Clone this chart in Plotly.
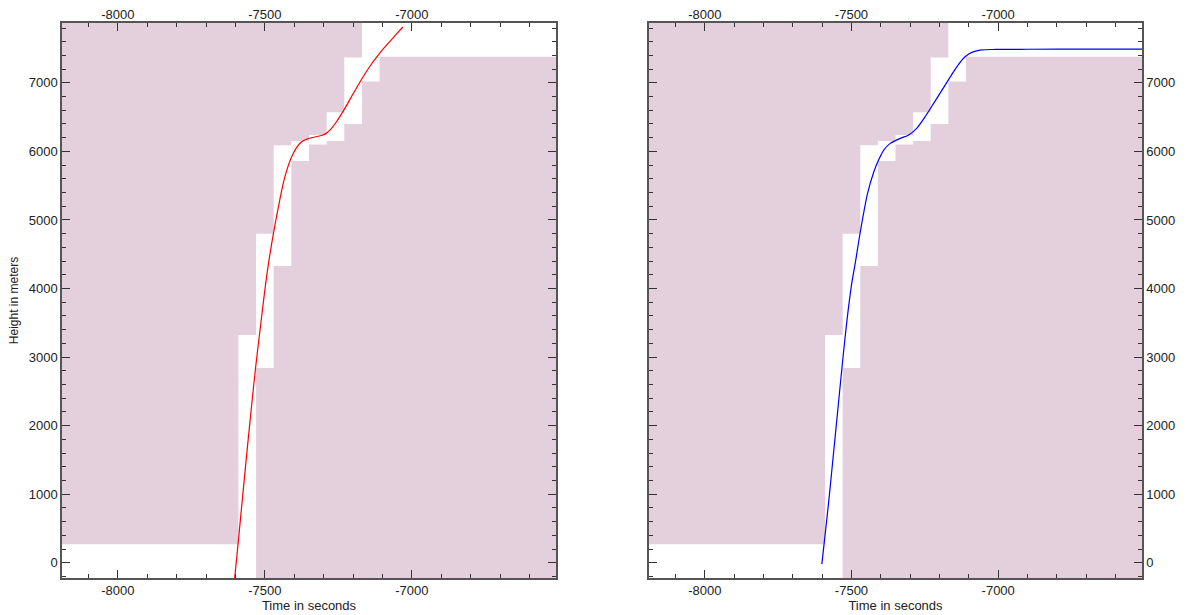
import plotly.graph_objects as go

# ---- data ----
# step corridor: edges of 60 s intervals, and allowed heights per interval
step_edges = [-7590, -7530, -7470, -7410, -7350, -7290, -7230, -7170, -7110]
upper_limit = [270, 3320, 4800, 6090, 6150, 6240, 6570, 7370, None, None]
lower_limit = [None, None, 2840, 4330, 5860, 6100, 6150, 6400, 7020, 7380]

red_time = [-7604, -7590, -7575, -7560, -7545, -7531, -7515, -7500, -7489, -7469,
            -7449, -7435, -7420, -7405, -7390, -7375, -7355, -7330, -7305, -7290,
            -7275, -7256, -7231, -7200, -7170, -7140, -7110, -7080, -7055, -7031]
red_height = [-280, 330, 1000, 1660, 2300, 2870, 3450, 3980, 4330, 4850,
              5300, 5580, 5800, 5960, 6070, 6140, 6185, 6210, 6235, 6270,
              6330, 6436, 6606, 6840, 7060, 7260, 7430, 7580, 7700, 7815]

blue_time = [-7601, -7594, -7585, -7575, -7560, -7545, -7530, -7515, -7500, -7486,
             -7469, -7445, -7424, -7407, -7390, -7368, -7334, -7305, -7277, -7250,
             -7220, -7190, -7160, -7135, -7113, -7090, -7062, -7006, -6900, -6700, -6500]
blue_height = [-20, 250, 600, 1000, 1650, 2300, 2950, 3550, 4050, 4400,
               4850, 5390, 5700, 5880, 6020, 6117, 6190, 6240, 6340, 6500,
               6700, 6905, 7110, 7270, 7380, 7445, 7478, 7487, 7490, 7492, 7492]

x_range = [-8190, -6510]
y_range = [-223, 7873]
x_ticks = [-8000, -7500, -7000]
x_tick_labels = ["-8000", "-7500", "-7000"]
y_ticks = [0, 1000, 2000, 3000, 4000, 5000, 6000, 7000]
y_tick_labels = ["0", "1000", "2000", "3000", "4000", "5000", "6000", "7000"]

shade = "#E3D0DC"
FAR_LEFT, FAR_RIGHT = -9000, -6000
FAR_LOW, FAR_HIGH = -2000, 12000


def step_path(limits, none_value):
    edges = [FAR_LEFT] + step_edges + [FAR_RIGHT]
    xs, ys = [], []
    for i, v in enumerate(limits):
        v = none_value if v is None else v
        xs += [edges[i], edges[i + 1]]
        ys += [v, v]
    return xs, ys


ux, uy = step_path(upper_limit, FAR_HIGH)
upper_poly_x = ux + [FAR_RIGHT, FAR_LEFT, ux[0]]
upper_poly_y = uy + [FAR_HIGH, FAR_HIGH, uy[0]]
lx, ly = step_path(lower_limit, FAR_LOW)
lower_poly_x = lx + [FAR_RIGHT, FAR_LEFT, lx[0]]
lower_poly_y = ly + [FAR_LOW, FAR_LOW, ly[0]]

fig = go.Figure()

for xa, ya, curve_t, curve_h, col in [("x", "y", red_time, red_height, "#FF0000"),
                                      ("x2", "y2", blue_time, blue_height, "#0000FF")]:
    for px, py in [(upper_poly_x, upper_poly_y), (lower_poly_x, lower_poly_y)]:
        fig.add_trace(go.Scatter(x=px, y=py, xaxis=xa, yaxis=ya, mode="lines",
                                 fill="toself", fillcolor=shade,
                                 line=dict(width=0, color=shade),
                                 hoverinfo="skip", showlegend=False))
    fig.add_trace(go.Scatter(x=curve_t, y=curve_h, xaxis=xa, yaxis=ya, mode="lines",
                             line=dict(color=col, width=1.2, shape="spline", smoothing=0.8),
                             showlegend=False))

font = dict(family="Liberation Sans, Arial, sans-serif", size=13, color="#222")
axis_common = dict(showline=True, linecolor="#555", linewidth=1.5, mirror="ticks",
                   ticks="inside", ticklen=8, tickwidth=1, tickcolor="#333",
                   showgrid=False, zeroline=False, tickfont=font, automargin=False)
x_minor = dict(dtick=100, tick0=-8000, ticks="inside", ticklen=4, tickcolor="#333")
y_minor = dict(dtick=200, tick0=0, ticks="inside", ticklen=4, tickcolor="#333")
top_axis = dict(side="top", range=x_range, tickvals=x_ticks, ticktext=x_tick_labels,
                showline=False, ticks="", showgrid=False, zeroline=False,
                tickfont=font, automargin=False)

dom1 = [62 / 1188, 556 / 1188]
dom2 = [649 / 1188, 1142 / 1188]

fig.update_layout(
    width=1188, height=615,
    margin=dict(l=0, r=0, t=23, b=37),
    paper_bgcolor="white", plot_bgcolor="white",
    font=font,
    xaxis=dict(domain=dom1, anchor="y", range=x_range, tickvals=x_ticks, ticktext=x_tick_labels,
               minor=x_minor, title=dict(text="Time in seconds", font=font, standoff=0),
               **axis_common),
    yaxis=dict(domain=[0, 1], anchor="x", range=y_range, tickvals=y_ticks, ticktext=y_tick_labels,
               minor=y_minor,
               title=dict(text="Height in meters",
                          font=dict(family=font["family"], size=12, color="#222"), standoff=8),
               **axis_common),
    xaxis2=dict(domain=dom2, anchor="y2", range=x_range, tickvals=x_ticks, ticktext=x_tick_labels,
                minor=x_minor, title=dict(text="Time in seconds", font=font, standoff=0),
                **axis_common),
    yaxis2=dict(domain=[0, 1], anchor="x2", side="right", range=y_range, tickvals=y_ticks,
                ticktext=y_tick_labels, minor=y_minor, **axis_common),
    xaxis3=dict(overlaying="x", anchor="y", **top_axis),
    xaxis4=dict(overlaying="x2", anchor="y2", **top_axis),
)

# invisible traces so the top label axes are drawn
fig.add_trace(go.Scatter(x=[x_range[0]], y=[y_range[0]], xaxis="x3", yaxis="y",
                         mode="markers", marker=dict(opacity=0), hoverinfo="skip", showlegend=False))
fig.add_trace(go.Scatter(x=[x_range[0]], y=[y_range[0]], xaxis="x4", yaxis="y2",
                         mode="markers", marker=dict(opacity=0), hoverinfo="skip", showlegend=False))

fig.write_html("out.html", config={"displayModeBar": False},
               post_script="document.body.style.margin='0';document.body.style.overflow='hidden';")
